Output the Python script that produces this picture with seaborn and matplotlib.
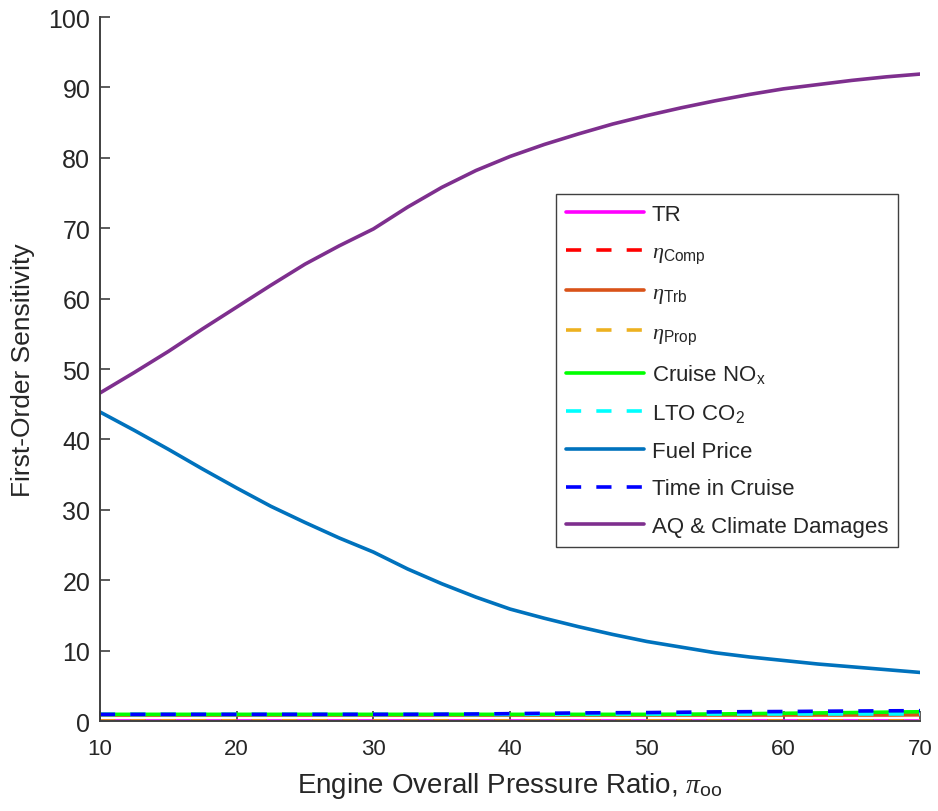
import matplotlib
matplotlib.use('Agg')
import matplotlib.pyplot as plt
import pandas as pd
import seaborn as sns

# Engine overall pressure ratio (x) and first-order sensitivities (%)
opr = [10, 12.5, 15, 17.5, 20, 22.5, 25, 27.5, 30, 32.5, 35, 37.5, 40,
       42.5, 45, 47.5, 50, 52.5, 55, 57.5, 60, 62.5, 65, 67.5, 70]

tr = [0.0] * 25
eta_comp = [0.0] * 25
eta_prop = [0.0] * 25
eta_trb = [0.85, 0.85, 0.85, 0.85, 0.85, 0.85, 0.85, 0.85, 0.85, 0.85, 0.85, 0.85, 0.85,
           0.85, 0.85, 0.85, 0.85, 0.85, 0.85, 0.85, 0.85, 0.85, 0.85, 0.85, 0.88]
cruise_nox = [0.95, 0.95, 0.95, 0.95, 0.95, 0.95, 0.95, 0.95, 0.95, 0.95, 0.95, 0.95, 0.95,
              0.95, 0.95, 0.95, 0.95, 0.97, 1.0, 1.05, 1.1, 1.15, 1.2, 1.26, 1.32]
lto_co2 = [0.92, 0.92, 0.92, 0.92, 0.92, 0.92, 0.92, 0.92, 0.92, 0.92, 0.92, 0.93, 0.95,
           0.98, 1.0, 1.0, 1.0, 1.0, 1.0, 1.0, 1.0, 1.0, 1.0, 1.0, 1.0]
fuel_price = [43.9, 41.3, 38.6, 35.8, 33.1, 30.5, 28.2, 26.0, 24.0, 21.6, 19.5, 17.6, 15.9,
              14.6, 13.4, 12.3, 11.3, 10.5, 9.7, 9.1, 8.6, 8.1, 7.7, 7.3, 6.9]
time_cruise = [0.95, 0.95, 0.95, 0.95, 0.95, 0.95, 0.95, 0.95, 0.95, 0.95, 0.97, 1.0, 1.05,
               1.1, 1.15, 1.18, 1.2, 1.25, 1.3, 1.33, 1.35, 1.39, 1.42, 1.45, 1.47]
aq_climate = [46.6, 49.5, 52.5, 55.7, 58.8, 61.9, 64.9, 67.5, 69.9, 73.0, 75.8, 78.2, 80.2,
              81.9, 83.4, 84.8, 86.0, 87.1, 88.1, 89.0, 89.8, 90.4, 91.0, 91.5, 91.9]

labels = ['TR', r'$\eta_\mathrm{Comp}$', r'$\eta_\mathrm{Trb}$', r'$\eta_\mathrm{Prop}$',
          r'Cruise NO$_\mathrm{x}$', r'LTO CO$_\mathrm{2}$', 'Fuel Price',
          'Time in Cruise', 'AQ & Climate Damages']
series = [tr, eta_comp, eta_trb, eta_prop, cruise_nox, lto_co2, fuel_price,
          time_cruise, aq_climate]
colors = ['#FF00FF', '#FF0000', '#D95319', '#EDB120', '#00FF00', '#00FFFF',
          '#0072BD', '#0000FF', '#7E2F8E']
dashed = [False, True, False, True, False, True, False, True, False]

sns.set_theme(style='ticks')
plt.rcParams['font.family'] = ['Liberation Sans', 'DejaVu Sans']
plt.rcParams['mathtext.fontset'] = 'custom'
plt.rcParams['mathtext.rm'] = 'Liberation Sans'
plt.rcParams['mathtext.it'] = 'Liberation Serif:italic'

fig = plt.figure(figsize=(9.38, 8.12), dpi=100)
ax = fig.add_axes([0.1066, 0.1108, 0.8745, 0.8670])

for lab, vals, col, dsh in zip(labels, series, colors, dashed):
    df = pd.DataFrame({'opr': opr, 'sens': vals})
    sns.lineplot(data=df, x='opr', y='sens', ax=ax, color=col, linewidth=2.6,
                 label=lab, legend=False)
    line = ax.get_lines()[-1]
    if dsh:
        line.set_dashes((4.2, 4.2))

ax.set_xlim(10, 70)
ax.set_ylim(0, 100)
ax.set_xticks([10, 20, 30, 40, 50, 60, 70])
ax.set_yticks(range(0, 101, 10))
ax.set_xlabel(r'Engine Overall Pressure Ratio, $\pi_\mathrm{oo}$', fontsize=20,
              color='#262626', labelpad=8)
ax.set_ylabel('First-Order Sensitivity', fontsize=19, color='#262626', labelpad=10)
ax.tick_params(axis='y', direction='in', length=7, width=1.2, labelsize=18,
               colors='#404040', labelcolor='#262626', pad=7)
ax.tick_params(axis='x', direction='in', length=7, width=1.2, labelsize=16,
               colors='#404040', labelcolor='#262626', pad=12)
sns.despine(ax=ax)
for side in ['left', 'bottom']:
    ax.spines[side].set_color('#404040')
    ax.spines[side].set_linewidth(1.4)
    ax.spines[side].set_zorder(3)

leg = ax.legend(loc='upper left', bbox_to_anchor=(0.556, 0.749), fontsize=16,
                frameon=True, fancybox=False, framealpha=1, edgecolor='#404040',
                handlelength=3.5, handletextpad=0.35, labelspacing=0.75,
                borderpad=0.45, borderaxespad=0)
leg.get_frame().set_linewidth(1.0)

fig.savefig('out.png', dpi=100)
plt.close(fig)
